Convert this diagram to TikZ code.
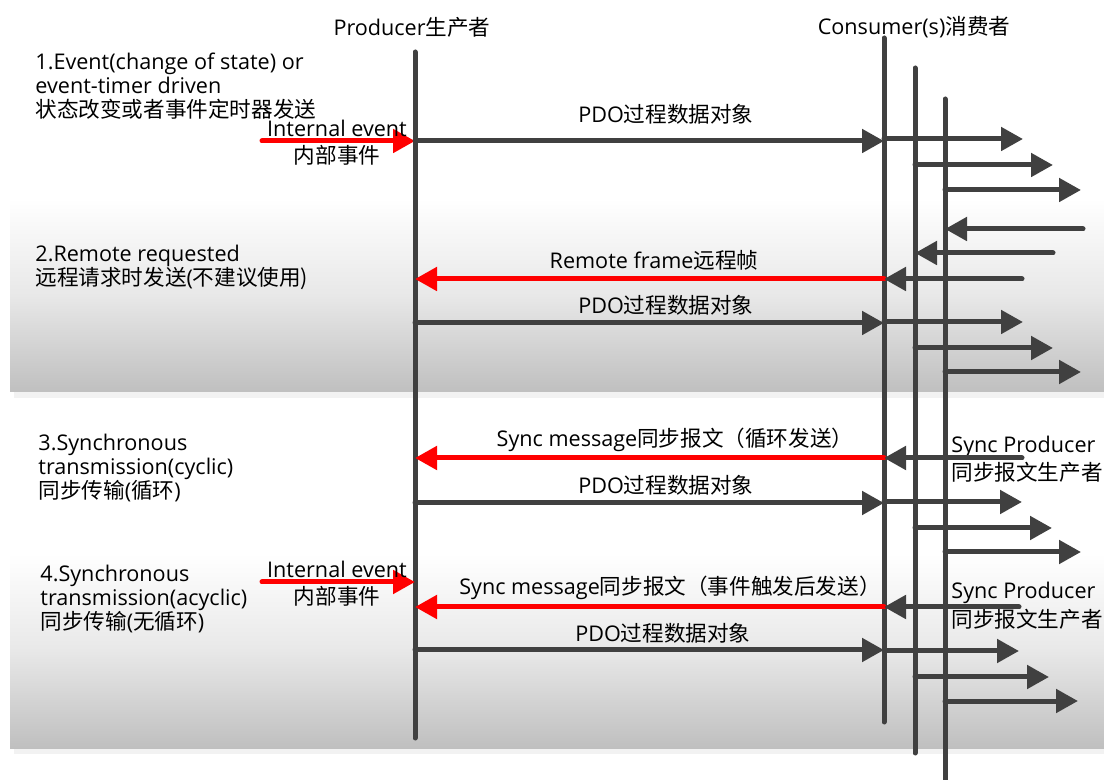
\documentclass[tikz,border=0pt]{standalone}
\usepackage{fontspec}
\setmainfont{Open Sans}
\newfontfamily\cjk{Noto Sans CJK SC}
\usepackage{tikz}
\usetikzlibrary{arrows.meta}
\definecolor{darkline}{rgb}{0.25, 0.25, 0.25}
\definecolor{msgred}{rgb}{1, 0, 0}
\tikzstyle{lifeline}=[line width=2.5pt, color=darkline, line cap=round]
\tikzstyle{pdo}=[lifeline, -{Triangle[length=11pt,width=11.5pt]}]
\tikzstyle{req}=[pdo, color=msgred]
\tikzstyle{txt}=[inner sep=0pt, font=\fontsize{10.8}{12}\selectfont]
\tikzstyle{side}=[txt, anchor=west, align=left]

\begin{document}
\begin{tikzpicture}[x=0.5pt, y=-0.5pt]
    \useasboundingbox (0,0) rectangle (1104,780);
    % grey bands behind modes 2 and 4, with their shadow
    \foreach \t/\b in {198/392, 553/748}{
      \fill[gray!10] (14,\t+20) rectangle (1104,\b+6);
      \shade[top color=white, bottom color=gray!50, middle color=gray!18] (10,\t) rectangle (1104,\b);
    }

    % life lines
    \foreach \n/\x/\t/\b in {prod/415/52/738, cons1/884/38/722, cons2/915/68/753, cons3/945/99/784}{
      \coordinate (\n-top) at (\x,\t);
      \coordinate (\n-bot) at (\x,\b);
      \draw[lifeline] (\n-top) -- (\n-bot);
    }
    \node[txt] (prodlbl) at (412,27) {Producer{\cjk 生产者}};
    \node[txt] (conslbl) at (914,27) {Consumer(s){\cjk 消费者}};

    % left hand texts
    \node[side] (mode1) at (35,86) {1.Event(change of state) or\\event-timer driven\\{\cjk 状态改变或者事件定时器发送}};
    \node[side] (mode2) at (35,267) {2.Remote requested\\{\cjk 远程请求时发送}(\cjk 不建议使用)};
    \node[side] (mode3) at (38,468) {3.Synchronous\\transmission(cyclic)\\{\cjk 同步传输}({\cjk 循环})};
    \node[side] (mode4) at (40,599) {4.Synchronous\\transmission(acyclic)\\{\cjk 同步传输}({\cjk 无循环})};

    % internal events
    \foreach \i/\y in {1/141, 2/582}{
      \coordinate (ie\i) at (262,\y);
      \draw[req] (ie\i) -- (ie\i -| prod-top);
      \node[txt] (ielbl\i) at (337,\y-13) {Internal event};
      \node[txt] (iezh\i) at (337,\y+14) {\cjk 内部事件};
    }

    % producer -> consumer
    \foreach \y in {141, 323, 503, 650}
    \draw[pdo] (prod-top |- 0,\y) -- (cons1-top |- 0,\y);
    \node[txt] (pdo1) at (666,114) {PDO{\cjk 过程数据对象}};
    \node[txt] (pdo2) at (666,305) {PDO{\cjk 过程数据对象}};
    \node[txt] (pdo3) at (666,485) {PDO{\cjk 过程数据对象}};
    \node[txt] (pdo4) at (663,633) {PDO{\cjk 过程数据对象}};

    % consumer -> producer
    \foreach \y in {279, 458, 607}
    \draw[req] (cons1-top |- 0,\y) -- (prod-top |- 0,\y);
    \node[txt] (remote) at (654,260) {Remote frame{\cjk 远程帧}};
    \node[txt] (sync1) at (675,440) {Sync message{\cjk 同步报文（循环发送）}};
    \node[txt] (sync2) at (670,588) {Sync message{\cjk 同步报文（事件触发后发送）}};

    % sync producers
    \node[txt, anchor=west] (sp1) at (951,447) {Sync Producer};
    \node[txt, anchor=west] (spzh1) at (951,472) {\cjk 同步报文生产者};
    \node[txt, anchor=west] (sp2) at (951,593) {Sync Producer};
    \node[txt, anchor=west] (spzh2) at (951,619) {\cjk 同步报文生产者};

    % arrows coming in from the right
    \foreach \s/\y/\n in {1083/229/3, 1053/253/2, 1022/279/1, 1022/458/1, 1019/607/1}
    \draw[pdo] (\s,\y) -- (cons\n-top |- 0,\y);
    % arrows going out to the right
    \foreach \y/\n/\e in {139/1/1023, 165/2/1053, 190/3/1081, 322/1/1023, 348/2/1053, 372/3/1081,
                          502/1/1022, 528/2/1052, 552/3/1081, 651/1/1019, 677/2/1049, 701/3/1078}
    \draw[pdo] (cons\n-top |- 0,\y) -- (\e,\y);
\end{tikzpicture}
\end{document}
